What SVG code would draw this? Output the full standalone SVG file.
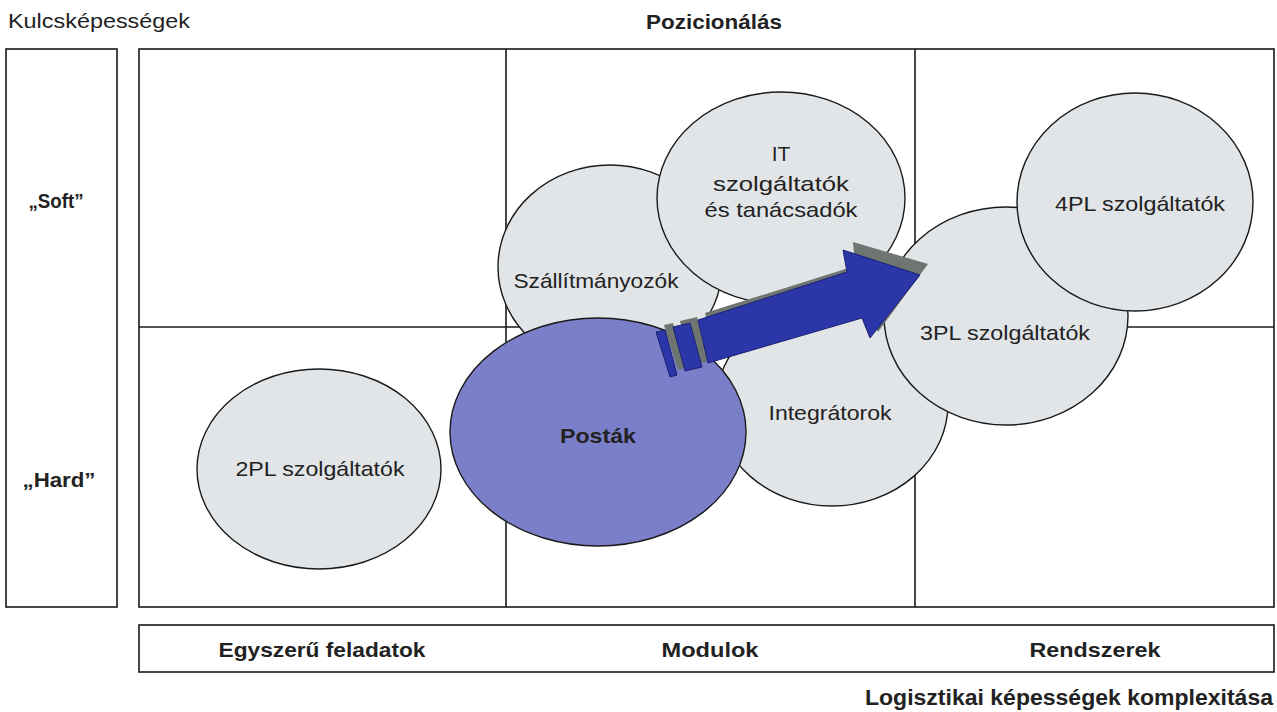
<svg xmlns="http://www.w3.org/2000/svg" width="1277" height="712" viewBox="0 0 1277 712">
<style>
.frame{fill:none;stroke:#1a1a1a;stroke-width:1.6}
.ell{fill:#e2e5e7;stroke:#1a1a1a;stroke-width:1.4}
.t{font-family:"Liberation Sans",Arial,sans-serif;font-size:21px;fill:#222;text-anchor:middle}
.b{font-weight:bold}
</style>
<rect width="1277" height="712" fill="#ffffff"/>
<g id="frames">
<rect class="frame" x="6" y="49" width="111" height="558"/>
<rect class="frame" x="139" y="49" width="1135" height="558"/>
<line class="frame" x1="139" y1="327" x2="1274" y2="327"/>
<line class="frame" x1="506" y1="49" x2="506" y2="607"/>
<line class="frame" x1="915" y1="49" x2="915" y2="607"/>
<rect class="frame" x="139" y="625" width="1135" height="47"/>
</g>
<g id="labels">
<text class="t" x="8" y="28" style="text-anchor:start" textLength="182" lengthAdjust="spacingAndGlyphs">Kulcsképességek</text>
<text class="t b" x="714" y="29" textLength="136" lengthAdjust="spacingAndGlyphs">Pozicionálás</text>
<text class="t b" x="56" y="208" textLength="55" lengthAdjust="spacingAndGlyphs">„Soft”</text>
<text class="t b" x="59" y="487" textLength="73" lengthAdjust="spacingAndGlyphs">„Hard”</text>
<text class="t b" x="322" y="657" textLength="207" lengthAdjust="spacingAndGlyphs">Egyszerű feladatok</text>
<text class="t b" x="710" y="657" textLength="97" lengthAdjust="spacingAndGlyphs">Modulok</text>
<text class="t b" x="1095" y="657" textLength="131" lengthAdjust="spacingAndGlyphs">Rendszerek</text>
<text class="t b" x="1273" y="705" style="text-anchor:end;font-size:22px" textLength="408" lengthAdjust="spacingAndGlyphs">Logisztikai képességek komplexitása</text>
</g>
<g id="n2pl">
<ellipse class="ell" cx="319" cy="469" rx="122" ry="100"/>
<text class="t" x="320" y="476" textLength="169" lengthAdjust="spacingAndGlyphs">2PL szolgáltatók</text>
</g>
<g id="szallitmanyozok">
<ellipse class="ell" cx="610" cy="267" rx="112" ry="102"/>
<text class="t" x="596" y="288" textLength="165" lengthAdjust="spacingAndGlyphs">Szállítmányozók</text>
</g>
<g id="it">
<ellipse class="ell" cx="781" cy="198" rx="124" ry="106"/>
<text class="t" x="781" y="161">IT</text>
<text class="t" x="781" y="191" textLength="136" lengthAdjust="spacingAndGlyphs">szolgáltatók</text>
<text class="t" x="781" y="217" textLength="153" lengthAdjust="spacingAndGlyphs">és tanácsadók</text>
</g>
<g id="integratorok">
<ellipse class="ell" cx="832" cy="404" rx="116" ry="102"/>
<text class="t" x="830" y="420" textLength="123" lengthAdjust="spacingAndGlyphs">Integrátorok</text>
</g>
<g id="postak">
<ellipse cx="598" cy="432" rx="148" ry="114" fill="#7b7fc9" stroke="#1a1a1a" stroke-width="1.4"/>
<text class="t b" x="598" y="443" textLength="76" lengthAdjust="spacingAndGlyphs">Posták</text>
</g>
<g id="n3pl">
<ellipse class="ell" cx="1006" cy="316" rx="122" ry="109"/>
<text class="t" x="1005" y="340" textLength="170" lengthAdjust="spacingAndGlyphs">3PL szolgáltatók</text>
</g>
<g id="n4pl">
<ellipse class="ell" cx="1135" cy="202" rx="118" ry="109"/>
<text class="t" x="1140" y="211" textLength="170" lengthAdjust="spacingAndGlyphs">4PL szolgáltatók</text>
</g>
<g id="connectors">
<g fill="#6f7570">
<polygon points="705,313 855,266 853,242 928,264 878,332 870,312 715,357"/>
<polygon points="680,321 697,317 709,361 692,365"/>
<polygon points="664,325 673,323 685,368 678,370"/>
</g>
<g fill="#2b36a8" stroke="#1c2270" stroke-width="1">
<polygon points="698,320 847,272 843,250 920,275 870,338 862,318 708,363"/>
<polygon points="673,327 690,323 702,367 685,371"/>
<polygon points="656,332 665,330 677,375 670,377"/>
</g>
</g>
</svg>
